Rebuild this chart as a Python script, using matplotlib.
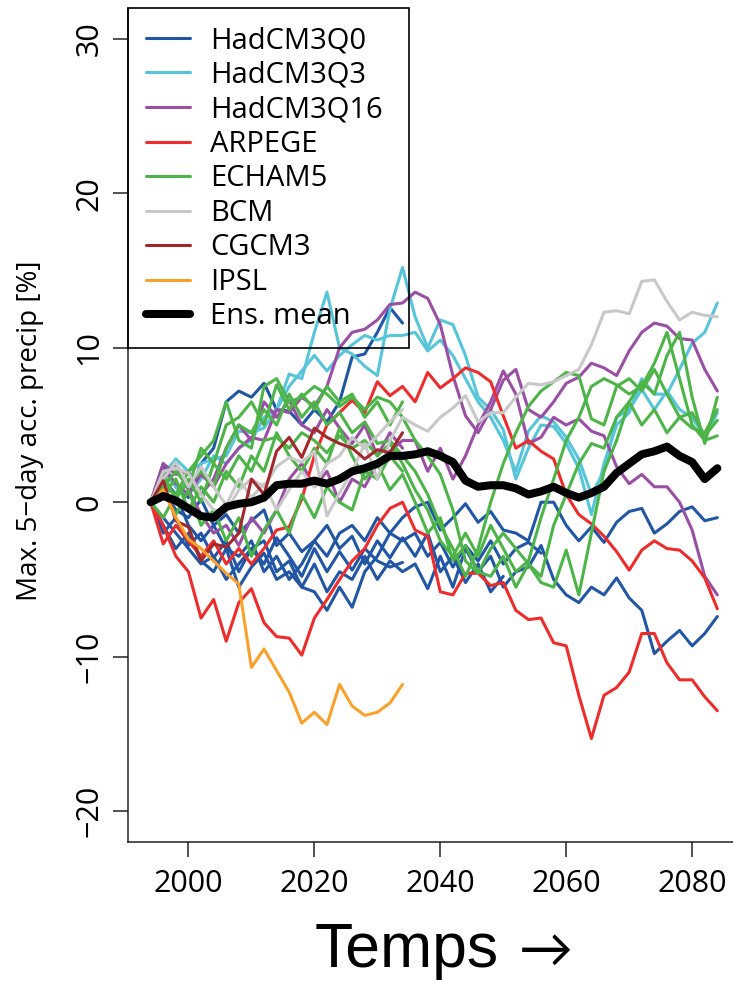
import numpy as np
import matplotlib
matplotlib.use("Agg")
import matplotlib.pyplot as plt
from matplotlib.patches import Rectangle

# years of the 2-yearly readings (1994 .. 2084); short runs stop at 2034
years = np.arange(1994, 2085, 2)

# HadCM3Q0 runs
q0_a = [0, 1.5, 0.5, -1.5, -2.5, -1.5, -3.0, -3.5, -2.5, -4.5, -3.5, -5.0, -4.0, -2.5, -3.5, -2.0, -1.5, -2.5, -1.0, -2.0, -1.0,
        -0.3, 0.0, -1.8, -1.0, -0.1, -1.3, -0.6, -1.8, -2.0, -2.5, 0.0, 0.0, -1.5, -2.5, -1.6, -2.6, -1.3, -0.6, -0.4, -2.0,
        -1.4, -0.6, -0.3, -1.2, -1.0]
q0_b = [0, -1.0, -2.0, -3.0, -4.0, -3.5, -5.0, -4.0, -3.0, -2.5, -4.5, -3.8, -5.5, -4.0, -5.8, -4.5, -5.0, -3.5, -5.0, -3.8, -4.5,
        -4.0, -5.6, -3.5, -5.5, -3.0, -4.5, -3.5, -5.5, -4.5, -4.2, -2.8, -5.0, -6.0, -6.5, -5.5, -6.0, -4.9, -6.2, -7.0, -9.8,
        -9.0, -8.3, -9.3, -8.5, -7.4]
q0_c = [0, 2.5, 1.0, 0.3, 2.5, 3.5, 6.5, 7.2, 6.8, 7.7, 6.0, 5.9, 5.0, 6.0, 5.2, 6.5, 9.4, 9.6, 11.0, 12.6, 11.6]
q0_d = [0, -2.0, -1.0, -2.8, -2.0, -3.6, -2.5, -4.5, -3.0, -4.0, -2.3, -3.5, -4.8, -3.0, -4.5, -3.2, -4.4, -3.0, -3.8, -4.2, -3.9]
q0_e = [0, -1.5, -3.0, -2.0, -3.8, -4.5, -3.0, -5.5, -4.2, -3.3, -5.0, -4.5, -5.5, -5.8, -7.0, -5.5, -6.8, -4.5, -3.5, -2.0, -2.5,
        -2.0, -3.5, -2.6, -4.2, -2.8, -3.8, -2.5, -4.0, -3.0, -2.6, -3.3]
q0_f = [0, 0.8, -0.5, -1.0, 0.2, -1.5, -0.8, -2.0, -1.2, -0.5, -2.8, -2.0, -3.2, -2.5, -1.5, -3.0, -2.2, -4.0, -2.5, -3.6, -2.3,
        -3.5, -2.0, -4.5, -3.5, -5.2, -4.0, -5.8, -4.8]

# HadCM3Q3 runs
q3_a = [0, 1.8, 2.8, 2.0, 2.5, 2.8, 3.0, 4.6, 4.5, 4.8, 6.0, 8.3, 8.0, 11.0, 13.6, 10.0, 9.6, 8.8, 8.2, 12.5, 15.2,
        12.0, 10.0, 11.8, 11.5, 9.5, 6.8, 6.0, 4.7, 1.5, 3.5, 5.0, 4.9, 3.8, 2.2, -0.8, 2.5, 5.0, 5.8, 8.0, 7.0,
        7.0, 8.6, 10.3, 11.0, 12.9]
q3_b = [0, 2.0, 1.0, 0.5, 1.5, 3.0, 2.5, 3.5, 4.0, 5.5, 6.0, 7.5, 8.5, 9.5, 8.5, 9.5, 10.2, 10.8, 10.5, 10.8, 10.8,
        11.0, 9.8, 10.5, 9.5, 8.0, 6.5, 5.5, 4.0, 2.0, 4.6, 5.6, 5.2, 4.2, 2.8, 0.5, 2.0, 5.5, 6.0, 7.3, 6.0,
        7.2, 6.0, 5.5, 4.2, 5.8]

# HadCM3Q16 runs
q16_a = [0, 2.2, 1.2, 0.5, 1.8, 1.0, 2.5, 3.5, 4.2, 4.0, 6.0, 5.8, 6.8, 6.2, 7.5, 10.0, 11.0, 11.2, 11.8, 12.8, 12.9,
         13.6, 13.2, 11.5, 8.2, 5.6, 4.5, 6.0, 7.9, 8.6, 6.0, 5.5, 6.5, 7.7, 8.1, 9.0, 8.7, 8.2, 9.8, 11.0, 11.6,
         11.4, 10.6, 10.5, 8.6, 7.2]
q16_b = [0, 1.5, 2.5, 0.8, -0.8, -2.0, -1.5, -2.8, -1.0, -2.0, -0.5, 1.5, 2.5, 1.0, 2.0, 0.0, 1.5, 1.0, 2.5, 3.3, 4.0,
         4.0, 2.0, 3.5, 1.5, 3.0, 5.0, 6.5, 8.5, 7.0, 3.8, 4.2, 5.5, 5.0, 5.4, 4.6, 4.3, 2.3, 1.2, 1.8, 1.0,
         1.0, 0.0, -1.8, -4.8, -6.0]
q16_c = [0, 2.5, 1.8, 2.0, 0.5, 1.5, 3.5, 5.0, 4.0, 6.5, 5.5, 6.6, 5.0, 4.5, 6.0, 4.8, 3.8, 5.0, 3.0, 4.5, 3.5]

# ARPEGE runs
arp_a = [0, -2.7, -1.5, -2.5, -3.5, -2.5, -4.0, -3.0, -4.0, -3.0, -1.8, -1.6, 0.2, 3.0, 5.0, 5.8, 6.6, 5.8, 7.8, 6.9, 7.5,
         6.5, 8.4, 7.4, 8.0, 8.7, 8.4, 7.8, 5.6, 3.5, 4.0, 3.3, 2.8, 0.5, -0.8, -1.4, -2.2, -3.2, -4.4, -3.1, -2.5,
         -3.0, -3.1, -3.8, -4.9, -6.9]
arp_b = [0, -1.5, -3.5, -4.5, -7.5, -6.3, -9.0, -6.5, -5.6, -7.8, -8.7, -8.8, -9.9, -7.5, -6.3, -5.0, -3.8, -3.0, -1.5, -0.4, 0.0,
         -1.8, -2.2, -5.8, -6.0, -4.6, -4.6, -5.4, -5.2, -7.0, -7.6, -7.5, -9.1, -9.3, -12.5, -15.3, -12.5, -12.0, -11.0, -8.5, -8.5,
         -10.4, -11.5, -11.5, -12.6, -13.5]

# ECHAM5 runs
ech_a = [0, 1.0, 0.5, 2.0, 3.0, 4.0, 6.5, 4.0, 3.5, 7.5, 8.0, 6.5, 6.8, 7.5, 7.0, 6.2, 6.8, 6.0, 6.8, 6.5, 5.5,
         4.0, 3.0, 1.8, -0.5, -3.8, -4.6, -3.0, -2.0, -3.0, -4.0, -5.2, -5.5, -3.1, -6.0, -2.0, 2.0, 4.0, 6.5, 7.8, 7.0,
         9.5, 11.0, 6.8, 3.8, 6.8]
ech_b = [0, 1.8, 0.2, 1.5, 0.0, 2.5, 1.5, 3.0, 2.0, 4.0, 4.2, 3.5, 4.5, 4.0, 3.2, 4.3, 3.5, 4.0, 3.0, 3.8, 2.5,
         0.8, -0.5, -2.5, -3.5, -2.0, -3.5, -1.5, -3.0, -4.5, -3.8, -1.0, 1.5, 4.0, 5.5, 7.5, 8.0, 7.6, 7.0, 7.5, 9.0,
         11.0, 8.0, 5.0, 4.0, 4.3]
ech_c = [0, 0.5, 1.5, -0.5, 1.0, 0.0, 2.0, 1.0, 3.0, 2.0, 4.5, 3.0, 2.0, 3.5, 2.5, 4.8, 3.0, 1.5, 2.5, 0.8, 1.8,
         0.0, -2.0, -1.0, -3.8, -2.8, -4.5, -4.8, -3.5, -5.5, -4.0, -4.8, -1.5, 0.5, 2.5, 3.8, 3.5, 5.5, 6.5, 5.0, 6.0,
         4.5, 5.5, 4.8, 4.5, 6.0]
ech_d = [0, -1.0, 0.5, 1.2, 2.0, 1.0, 3.5, 5.0, 4.5, 6.0, 5.0, 7.0, 5.5, 6.5, 5.0, 5.8, 4.5, 5.2, 3.8, 4.0, 3.0,
         2.0, 0.5, -1.5, -3.0, -4.8, -3.0, 0.0, 2.5, 4.5, 6.2, 7.2, 7.8, 8.4, 8.2, 5.4, 5.0, 7.5, 8.0, 7.2, 8.6,
         7.0, 5.5, 5.8, 4.3, 5.3]
ech_e = [0, 0.8, -0.8, 0.8, -1.5, -0.5, -2.5, -1.0, -3.5, -1.8, -0.5, -2.0, 0.5, -1.0, 1.0, 0.0, -0.5, 2.0, 1.5, 3.0, 2.0]
ech_f = [0, 1.0, 2.0, 1.0, 3.5, 2.5, 5.0, 5.5, 6.5, 5.0, 7.6, 6.0, 7.0, 6.0, 7.5, 6.5, 7.0, 5.5, 6.5, 5.0, 6.5]

# BCM runs
bcm_a = [0, 2.0, 2.2, 1.9, 0.5, -0.5, -0.6, 0.8, 1.5, 1.0, 2.3, 2.9, 2.6, 3.3, -0.9, 0.6, 2.0, 3.8, 1.5, 4.0, 5.5,
         5.0, 4.6, 5.5, 6.1, 6.9, 5.2, 5.8, 5.8, 6.8, 7.7, 7.6, 7.8, 8.2, 8.6, 10.2, 12.3, 12.4, 12.2, 14.3, 14.4,
         13.0, 11.8, 12.3, 12.1, 12.0]
bcm_b = [0, 1.5, 2.6, 1.0, 2.3, 1.0, -0.2, 1.5, 0.3, 1.2, -0.5, 0.8, 2.0, 1.0, 2.5, 3.0, 4.2, 3.5, 4.3, 5.2, 6.0]

# CGCM3 and IPSL runs
cgcm = [0, 1.4, -1.2, -1.6, -3.8, -2.7, -2.9, -2.0, 1.5, 0.5, 3.3, 4.2, 2.9, 4.8, 4.2, 3.8, 3.5, 2.8, 3.4, 3.2, 4.5]
ipsl = [0, 0.8, -1.0, -2.4, -3.0, -3.8, -4.6, -5.3, -10.7, -9.5, -10.9, -12.3, -14.3, -13.6, -14.4, -11.8, -13.2, -13.8,
        -13.6, -13.0, -11.8]

# ensemble mean
ens_mean = [0, 0.4, 0.1, -0.4, -0.9, -1.0, -0.3, -0.1, 0.0, 0.3, 1.1, 1.2, 1.2, 1.4, 1.2, 1.5, 2.0, 2.2, 2.5, 3.0, 3.0,
            3.1, 3.3, 3.0, 2.6, 1.4, 1.0, 1.1, 1.1, 0.9, 0.5, 0.7, 1.0, 0.6, 0.3, 0.6, 1.0, 1.9, 2.5, 3.1, 3.3,
            3.6, 3.0, 2.6, 1.5, 2.2]

models = ["HadCM3Q0", "HadCM3Q3", "HadCM3Q16", "ARPEGE", "ECHAM5", "BCM", "CGCM3", "IPSL"]
colors = ["#2156A5", "#56C5DA", "#9A4FA5", "#EE2C2C", "#4DB548", "#C8C8C8", "#A3282C", "#F9A12B"]
runs = [[q0_a, q0_b, q0_c, q0_d, q0_e, q0_f],
        [q3_a, q3_b],
        [q16_a, q16_b, q16_c],
        [arp_a, arp_b],
        [ech_a, ech_b, ech_c, ech_d, ech_e, ech_f],
        [bcm_a, bcm_b],
        [cgcm],
        [ipsl]]

plt.rcParams["font.family"] = ["Open Sans", "DejaVu Sans"]

W, H = 733, 981
fig = plt.figure(figsize=(W / 100, H / 100), dpi=100)
ax = fig.add_axes([128 / W, 1 - 842 / H, (740 - 128) / W, (842 - 8) / H])

for name, col, group in zip(models, colors, runs):
    for k, vals in enumerate(group):
        ax.plot(years[:len(vals)], vals, color=col, lw=2.2,
                solid_joinstyle="round", solid_capstyle="round",
                label=name if k == 0 else None)

ax.plot(years, ens_mean, color="black", lw=5.8,
        solid_joinstyle="round", solid_capstyle="round", label="Ens. mean")

ax.set_xlim(1990.4, 2087.6)
ax.set_ylim(-22, 32)
ax.set_xticks([2000, 2020, 2040, 2060, 2080])
ax.set_yticks([-20, -10, 0, 10, 20, 30])

for s in ["top", "right"]:
    ax.spines[s].set_visible(False)
for s in ["left", "bottom"]:
    ax.spines[s].set_linewidth(1.1)
    ax.spines[s].set_color("#222222")

ax.tick_params(axis="both", length=10.8, width=1.1, color="#222222", labelsize=22)
ax.tick_params(axis="x", pad=8.5)
ax.tick_params(axis="y", pad=6.3, labelrotation=90)
for lab in ax.get_yticklabels():
    lab.set_va("center")

leg = ax.legend(loc="upper left", bbox_to_anchor=(0, 1), borderaxespad=0,
                fontsize=21, handlelength=1.51, handletextpad=0.68,
                labelspacing=0.19, borderpad=0.62, frameon=False)

# legend box, R style (square, open background)
ax.add_patch(Rectangle((0, (842 - 348) / 834), (409 - 128) / 612, 1 - (842 - 348) / 834,
                       transform=ax.transAxes, fill=False, edgecolor="black",
                       lw=1.2, clip_on=False, zorder=5))

fig.text(30 / W, 1 - 431 / H, "Max. 5\u2212day acc. precip [%]", rotation=90,
         ha="center", va="center", fontsize=20)
fig.text(315 / W, 1 - 967 / H, "Temps", fontsize=45,
         family=["Liberation Sans", "DejaVu Sans"], ha="left", va="baseline")
fig.text(519 / W, 1 - 967 / H, "\u2192", fontsize=39,
         family=["Lato", "DejaVu Sans"], ha="left", va="baseline")

fig.savefig("out.png", dpi=100)
